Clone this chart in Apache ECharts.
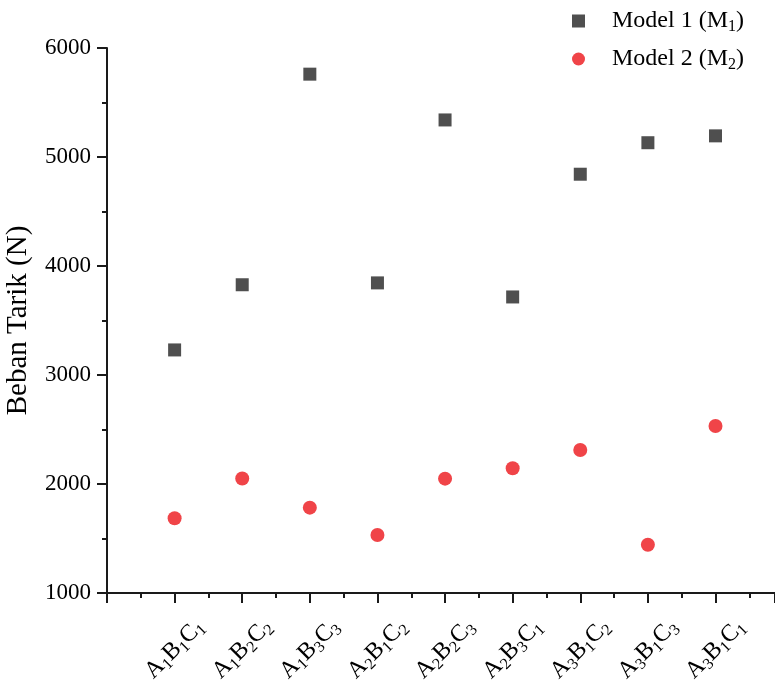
<!DOCTYPE html>
<html>
<head>
<meta charset="utf-8">
<script src="https://cdn.jsdelivr.net/npm/echarts@6/dist/echarts.min.js"></script>
<style>html,body{margin:0;padding:0;background:#fff}#c{width:775px;height:683px}</style>
</head>
<body>
<div id="c"></div>
<script>
// categories: [A index, B index, C index]
const categories = [
  ['1','1','1'], ['1','2','2'], ['1','3','3'],
  ['2','1','2'], ['2','2','3'], ['2','3','1'],
  ['3','1','2'], ['3','1','3'], ['3','1','1']
];
const model1 = [3230, 3828, 5760, 3845, 5340, 3716, 4842, 5131, 5194];
const model2 = [1686, 2051, 1783, 1532, 2049, 2144, 2312, 1443, 2532];
const seriesNames = ['Model 1 (M{s|1})', 'Model 2 (M{s|2})'];
const yTicks = [1000, 2000, 3000, 4000, 5000, 6000];

const FONT = '"Liberation Serif", "Times New Roman", serif';
const subStyle = { fontSize: 16, fontFamily: FONT, color: '#000', verticalAlign: 'bottom', padding: [12, 0, 0, 0] };

const chart = echarts.init(document.getElementById('c'));
const axisColor = '#1a1a1a';
chart.setOption({
  animation: false,
  backgroundColor: '#fff',
  grid: { left: 107, right: 0, top: 48, bottom: 90, containLabel: false, outerBoundsMode: 'none' },
  legend: {
    orient: 'vertical',
    left: 567,
    top: 2,
    itemWidth: 13,
    itemHeight: 13,
    itemGap: 10,
    data: [
      { name: seriesNames[0], icon: 'rect' },
      { name: seriesNames[1], icon: 'circle' }
    ],
    formatter: n => n,
    textStyle: {
      fontFamily: FONT, fontSize: 24, color: '#000', lineHeight: 28,
      padding: [0, 0, 0, 22],
      rich: { s: subStyle }
    }
  },
  xAxis: {
    type: 'value',
    min: 0,
    max: 9.88,
    interval: 1,
    splitLine: { show: false },
    axisLine: { lineStyle: { color: axisColor, width: 2 } },
    axisTick: { length: 10, lineStyle: { color: axisColor, width: 2 } },
    minorTick: { show: true, splitNumber: 2, length: 5, lineStyle: { color: axisColor, width: 2 } },
    axisLabel: {
      rotate: 45,
      align: 'center',
      verticalAlign: 'middle',
      margin: 56,
      showMaxLabel: false,
      fontFamily: FONT, fontSize: 24, color: '#000', lineHeight: 28,
      formatter: v => {
        const i = Math.round(v) - 1;
        if (Math.abs(v - Math.round(v)) > 1e-6 || i < 0 || i >= categories.length) return '';
        const c = categories[i];
        return 'A{s|' + c[0] + '}B{s|' + c[1] + '}C{s|' + c[2] + '}';
      },
      rich: { s: subStyle }
    }
  },
  yAxis: {
    type: 'value',
    min: yTicks[0],
    max: yTicks[yTicks.length - 1],
    interval: 1000,
    name: 'Beban Tarik (N)',
    nameLocation: 'middle',
    nameGap: 74,
    nameTextStyle: { fontFamily: FONT, fontSize: 29, color: '#000' },
    splitLine: { show: false },
    axisLine: { show: true, lineStyle: { color: axisColor, width: 2 } },
    axisTick: { show: true, length: 10, lineStyle: { color: axisColor, width: 2 } },
    minorTick: { show: true, splitNumber: 2, length: 5, lineStyle: { color: axisColor, width: 2 } },
    axisLabel: { margin: 16, fontFamily: FONT, fontSize: 23, color: '#000', formatter: v => String(v) }
  },
  series: [
    {
      name: seriesNames[0],
      type: 'scatter',
      symbol: 'rect',
      symbolSize: 13,
      itemStyle: { color: '#4f4f4f', opacity: 1 },
      data: model1.map((v, i) => [i + 1, v])
    },
    {
      name: seriesNames[1],
      type: 'scatter',
      symbol: 'circle',
      symbolSize: 14,
      itemStyle: { color: '#f04448', opacity: 1 },
      data: model2.map((v, i) => [i + 1, v])
    }
  ]
});
</script>
</body>
</html>
